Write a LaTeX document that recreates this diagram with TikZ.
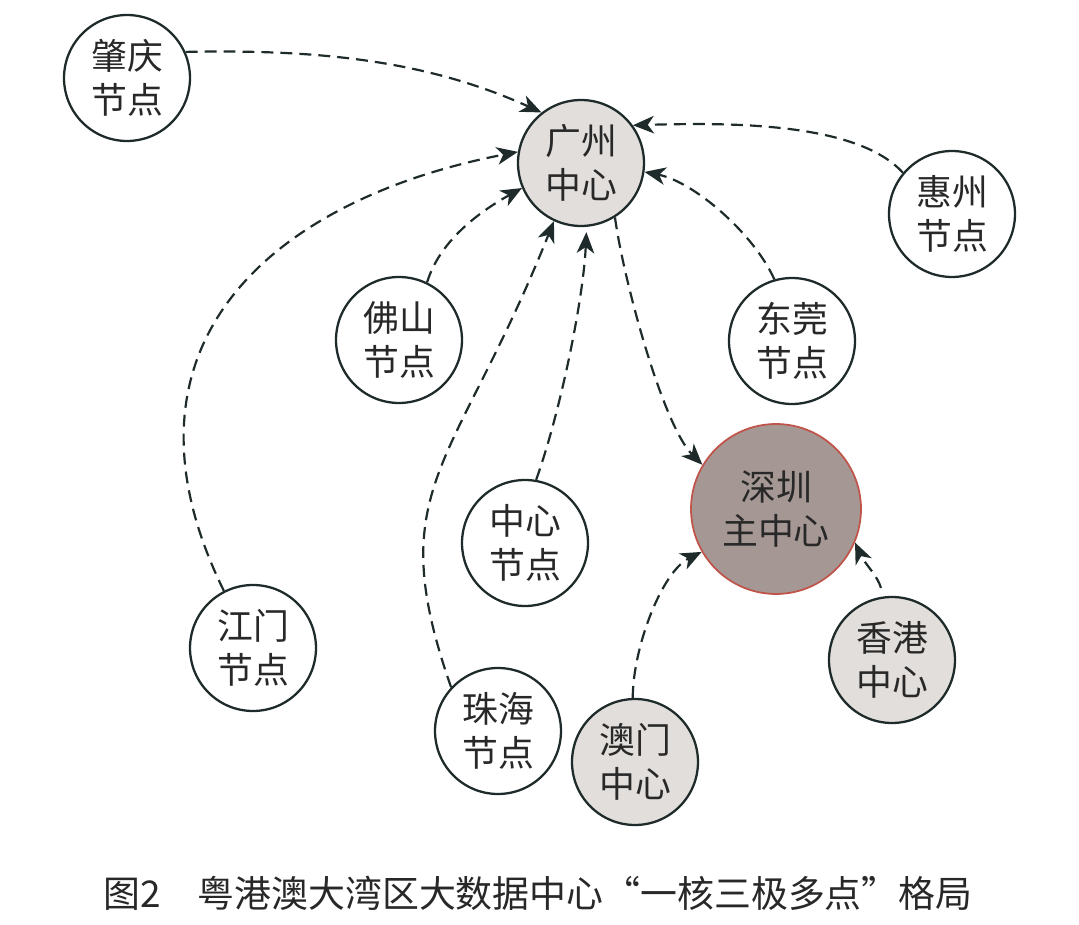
\documentclass[tikz,border=0pt]{standalone}
\usepackage{fontspec}
\setmainfont{Noto Sans CJK SC}
\usepackage{tikz}
\usetikzlibrary{arrows.meta}

\definecolor{inkc}{RGB}{31,43,43}
\definecolor{txtc}{RGB}{40,40,40}
\definecolor{hubfill}{RGB}{226,222,219}
\definecolor{corefill}{RGB}{165,152,148}
\definecolor{corered}{RGB}{192,84,74}

\begin{document}
\begin{tikzpicture}[x=0.02cm,y=-0.02cm]
  \tikzset{
    spot/.style={circle, draw=inkc, line width=1.3pt, fill=white, minimum size=2.52cm, inner sep=0pt, align=center, text=txtc, font=\fontsize{20.4}{25}\selectfont},
    hub/.style={spot, fill=hubfill},
    core/.style={spot, draw=corered, line width=1pt, fill=corefill, minimum size=3.4cm},
    link/.style={draw=inkc, line width=1.25pt, dash pattern=on 6.8pt off 4pt, -{Stealth[length=12pt,width=10pt,inset=3.5pt]}}
  }
  \useasboundingbox (0,0) rectangle (1079,925);

  % Centres
  \node[hub] (gz) at (581,163) {广州\\中心};
  \node[core] (sz) at (776,509) {深圳\\主中心};
  \node[hub] (hk) at (892,660) {香港\\中心};
  \node[hub] (mo) at (635,762) {澳门\\中心};

  % Nodes
  \node[spot] (zq) at (127,78) {肇庆\\节点};
  \node[spot] (hz) at (952,214) {惠州\\节点};
  \node[spot] (fs) at (399,340) {佛山\\节点};
  \node[spot] (dg) at (792,341) {东莞\\节点};
  \node[spot] (zx) at (525,543) {中心\\节点};
  \node[spot] (jm) at (253,648) {江门\\节点};
  \node[spot] (zh) at (498,731) {珠海\\节点};

  % Links into Guangzhou
  \draw[link] (zq.24) .. controls +(140,-3) and +(-110,-50) .. (gz.128);
  \draw[link] (jm.117) .. controls +(-122,-248) and +(-243,47) .. (gz.170);
  \draw[link] (fs.64) .. controls +(12,-40) and +(-45,25) .. (gz.203);
  \draw[link] (zh.137) .. controls +(-70,-200) and +(-100,250) .. (gz.245);
  \draw[link, shorten >=3pt] (zx.80) .. controls +(25,-70) and +(-3,70) .. (gz.275);
  \draw[link] (dg.106) .. controls +(-20,-45) and +(50,10) .. (gz.352);
  \draw[link] (hz.140) .. controls +(-45,-50) and +(100,-3) .. (gz.36);

  % Links into Shenzhen
  \draw[link] (gz.302) .. controls +(8,60) and +(-40,-40) .. (sz.149);
  \draw[link] (mo.92) .. controls +(0,-50) and +(-40,20) .. (sz.210);
  \draw[link, shorten <=5pt] (hk.98) .. controls +(-5,-20) and +(9,20) .. (sz.337);

  % Caption
  \node[text=txtc, font=\fontsize{21}{21}\selectfont] (cap) at (538,893) {图2　粤港澳大湾区大数据中心“一核三极多点”格局};
\end{tikzpicture}
\end{document}
